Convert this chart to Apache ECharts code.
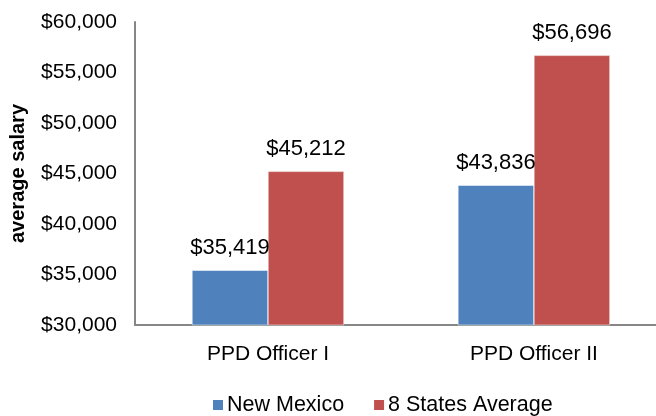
<!DOCTYPE html>
<html>
<head>
<meta charset="utf-8">
<script src="https://cdn.jsdelivr.net/npm/echarts@6/dist/echarts.min.js"></script>
<style>
  html, body { margin: 0; padding: 0; background: #fff; }
  #chart-container { width: 656px; height: 416px; }
</style>
</head>
<body>
<div id="chart-container"></div>
<script>
'use strict';
const categories = ['PPD Officer I', 'PPD Officer II'];
const newMexico = [35419, 43836];
const statesAverage = [45212, 56696];
const yTicks = { min: 30000, max: 60000, interval: 5000 };

const fmt = (v) => '$' + Number(v).toLocaleString('en-US');
const font = 'Liberation Sans, Arial, sans-serif';

// categories sit on a numeric x axis so the plot can run past the right edge
const catIndex = categories.map((c, i) => i);
const toPairs = (vals) => vals.map((v, i) => [catIndex[i], v]);

const myChart = echarts.init(document.getElementById('chart-container'), null, { renderer: 'canvas' });

const valueLabel = {
    show: true, position: 'top', distance: 11, fontSize: 22, color: '#000',
    fontFamily: font, formatter: (p) => fmt(p.value[1])
};

const option = {
    backgroundColor: '#fff',
    animation: false,
    textStyle: { fontFamily: font },
    grid: { left: 135, right: 0, top: 22, bottom: 91, containLabel: false },
    legend: {
        left: 206,
        top: 389,
        icon: 'rect',
        itemWidth: 12,
        itemHeight: 12,
        itemGap: 28,
        textStyle: { fontSize: 21.5, color: '#000', fontFamily: font, padding: [0, 0, 0, -2] },
        data: ['New Mexico', '8 States Average']
    },
    xAxis: {
        type: 'value',
        min: -0.5,
        max: 1.459,
        splitLine: { show: false },
        axisLine: { onZero: false, lineStyle: { color: '#868686', width: 2 } },
        axisTick: { show: false },
        axisLabel: {
            customValues: catIndex,
            color: '#000', fontSize: 21, margin: 19, fontFamily: font,
            formatter: (v) => categories[Math.round(v)] ?? ''
        }
    },
    yAxis: {
        type: 'value',
        min: yTicks.min,
        max: yTicks.max,
        interval: yTicks.interval,
        name: 'average salary',
        nameLocation: 'middle',
        nameGap: 107,
        nameTextStyle: { fontSize: 20, fontWeight: 'bold', color: '#000', fontFamily: font },
        axisLine: { show: true, onZero: false, lineStyle: { color: '#868686', width: 2 } },
        axisTick: { show: false },
        splitLine: { show: false },
        axisLabel: { color: '#000', fontSize: 21, margin: 18, fontFamily: font, formatter: fmt }
    },
    series: [
        {
            name: 'New Mexico',
            type: 'bar',
            data: toPairs(newMexico),
            barWidth: 76,
            barGap: '0%',
            itemStyle: { color: '#4F81BD', borderColor: '#fff', borderWidth: 0.5 },
            label: valueLabel
        },
        {
            name: '8 States Average',
            type: 'bar',
            data: toPairs(statesAverage),
            barWidth: 76,
            barGap: '0%',
            itemStyle: { color: '#C0504D', borderColor: '#fff', borderWidth: 0.5 },
            label: valueLabel
        }
    ]
};
myChart.setOption(option);
window.addEventListener('resize', myChart.resize);
</script>
</body>
</html>
